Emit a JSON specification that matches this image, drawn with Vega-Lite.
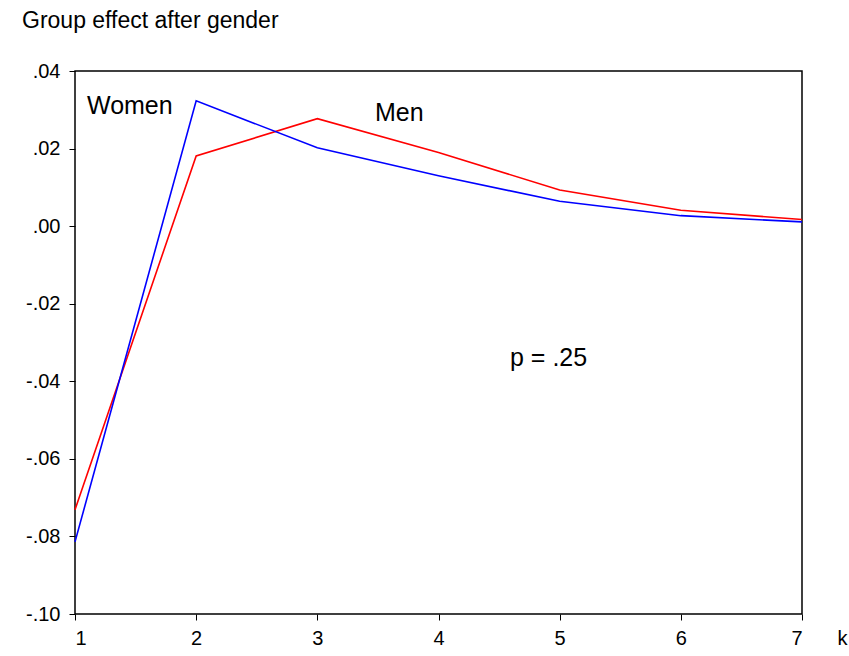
{
  "$schema": "https://vega.github.io/schema/vega-lite/v6.json",
  "width": 727,
  "height": 543,
  "autosize": {"type": "none"},
  "padding": {"left": 75, "top": 71, "right": 47, "bottom": 42},
  "background": "white",
  "config": {
    "font": "Liberation Sans",
    "view": {"stroke": "#000000", "strokeWidth": 1.5},
    "axis": {"grid": false, "domain": false, "tickColor": "#000000", "tickSize": 6, "tickWidth": 1, "labelColor": "#000000", "labelFont": "Liberation Sans", "labelFontSize": 20}
  },
  "title": {
    "text": "Group effect after gender",
    "anchor": "start",
    "frame": "group",
    "dx": -53,
    "offset": 5,
    "baseline": "bottom",
    "font": "Liberation Sans",
    "fontSize": 23,
    "fontWeight": "normal",
    "color": "#000000"
  },
  "datasets": {
    "series": [
      {"k": 1, "value": -0.0731, "group": "Men"},
      {"k": 2, "value": 0.0181, "group": "Men"},
      {"k": 3, "value": 0.0277, "group": "Men"},
      {"k": 4, "value": 0.019, "group": "Men"},
      {"k": 5, "value": 0.0093, "group": "Men"},
      {"k": 6, "value": 0.0041, "group": "Men"},
      {"k": 7, "value": 0.0017, "group": "Men"},
      {"k": 1, "value": -0.0814, "group": "Women"},
      {"k": 2, "value": 0.0323, "group": "Women"},
      {"k": 3, "value": 0.0202, "group": "Women"},
      {"k": 4, "value": 0.013, "group": "Women"},
      {"k": 5, "value": 0.0064, "group": "Women"},
      {"k": 6, "value": 0.0027, "group": "Women"},
      {"k": 7, "value": 0.0011, "group": "Women"}
    ],
    "labels": [
      {"k": 1.099, "value": 0.0309, "label": "Women"},
      {"k": 3.476, "value": 0.0291, "label": "Men"},
      {"k": 4.59, "value": -0.034, "label": "p = .25"}
    ]
  },
  "layer": [
    {
      "mark": {"type": "rule", "color": "#008000", "strokeWidth": 1.5},
      "encoding": {"y": {"datum": 0, "type": "quantitative"}}
    },
    {
      "data": {"name": "series"},
      "mark": {"type": "line", "strokeWidth": 1.6},
      "encoding": {
        "x": {
          "field": "k", "type": "quantitative",
          "scale": {"domain": [1, 7], "nice": false, "zero": false},
          "axis": {"values": [1, 2, 3, 4, 5, 6, 7], "format": "d", "labelPadding": 8, "title": "k", "titleFont": "Liberation Sans", "titleFontSize": 20, "titleFontWeight": "normal", "titleColor": "#000000", "titleX": 767, "titleY": 24, "titleAlign": "center", "titleBaseline": "middle", "titleAngle": 0}
        },
        "y": {
          "field": "value", "type": "quantitative",
          "scale": {"domain": [-0.1, 0.04], "nice": false, "zero": false},
          "axis": {"values": [-0.1, -0.08, -0.06, -0.04, -0.02, 0, 0.02, 0.04], "labelExpr": "(datum.value < -0.0001 ? '-' : '') + replace(format(abs(datum.value), '.2f'), '0.', '.')", "labelPadding": 9, "title": null}
        },
        "color": {
          "field": "group", "type": "nominal",
          "scale": {"domain": ["Men", "Women"], "range": ["#FF0000", "#0000FF"]},
          "legend": null
        },
        "order": {"field": "k"}
      }
    },
    {
      "data": {"name": "labels"},
      "mark": {"type": "text", "align": "left", "baseline": "middle", "font": "Liberation Sans", "fontSize": 25, "color": "#000000"},
      "encoding": {
        "x": {"field": "k", "type": "quantitative"},
        "y": {"field": "value", "type": "quantitative"},
        "text": {"field": "label"}
      }
    }
  ]
}
